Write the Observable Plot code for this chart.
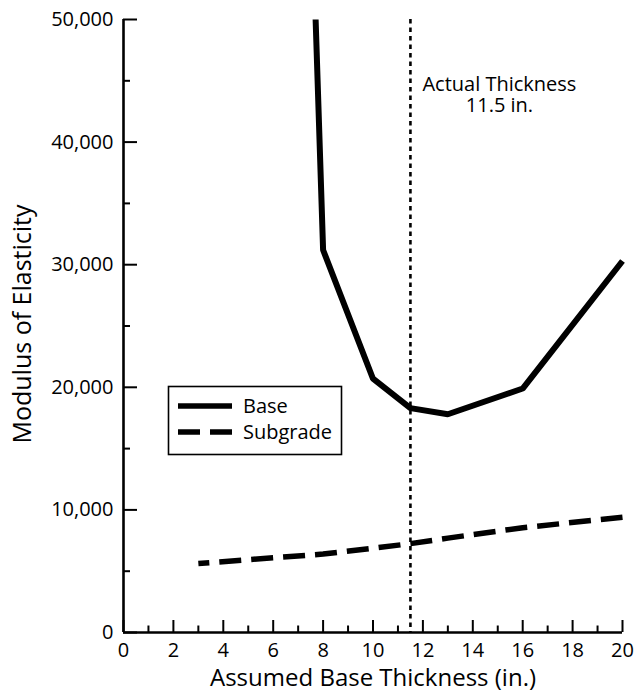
<!DOCTYPE html>
<html>
<head>
<meta charset="utf-8">
<script src="https://cdn.jsdelivr.net/npm/d3@7"></script>
<script src="https://cdn.jsdelivr.net/npm/@observablehq/plot@0.6"></script>
<style>
  body { margin: 0; background: #fff; font-family: "Open Sans", sans-serif; }
  #chart { width: 635px; height: 696px; }
</style>
</head>
<body>
<div id="chart"></div>
<script>
// Backcalculated base modulus against the assumed base thickness
const baseThickness = [7.7, 8, 10, 11.5, 13, 16, 20];
const baseModulus = [50000, 31200, 20700, 18300, 17800, 19900, 30300];

// Backcalculated subgrade modulus against the assumed base thickness
const subgradeThickness = [3, 8, 10, 11.5, 13, 16, 20];
const subgradeModulus = [5630, 6400, 6870, 7250, 7700, 8550, 9400];

// Thickness measured in the field
const actualThickness = 11.5;

// Axis ticks
const xMajorTicks = [0, 2, 4, 6, 8, 10, 12, 14, 16, 18, 20];
const xMinorTicks = [1, 3, 5, 7, 9, 11, 13, 15, 17, 19];
const yMajorTicks = [0, 10000, 20000, 30000, 40000, 50000];
const yMinorTicks = [5000, 15000, 25000, 35000, 45000];

const seriesNames = ["Base", "Subgrade"];

const base = baseThickness.map((x, i) => ({x, y: baseModulus[i]}));
const subgrade = subgradeThickness.map((x, i) => ({x, y: subgradeModulus[i]}));

const W = 635, H = 696;
const mL = 123, mR = 13, mT = 19, mB = 64;
const plotW = W - mL - mR, plotH = H - mT - mB;

const chart = Plot.plot({
  width: W,
  height: H,
  marginLeft: mL,
  marginRight: mR,
  marginTop: mT,
  marginBottom: mB,
  style: {fontFamily: "'Open Sans', sans-serif", fontSize: "20px", color: "#000", background: "#fff", overflow: "visible"},
  x: {domain: [0, 20]},
  y: {domain: [0, 50000]},
  marks: [
    // dotted marker at the actual thickness
    Plot.ruleX([actualThickness], {stroke: "#000", strokeWidth: 2.6, strokeDasharray: "4.5,4"}),

    // axis lines
    Plot.ruleX([0], {stroke: "#000", strokeWidth: 2.6}),
    Plot.ruleY([0], {stroke: "#000", strokeWidth: 2.6}),

    // inward tick marks
    Plot.ruleX(xMajorTicks, {x: d => d, insetTop: plotH - 12, stroke: "#000", strokeWidth: 2}),
    Plot.ruleX(xMinorTicks, {x: d => d, insetTop: plotH - 6.5, stroke: "#000", strokeWidth: 2}),
    Plot.ruleY(yMajorTicks, {y: d => d, insetRight: plotW - 14, stroke: "#000", strokeWidth: 2}),
    Plot.ruleY(yMinorTicks, {y: d => d, insetRight: plotW - 7, stroke: "#000", strokeWidth: 2}),

    // tick labels
    Plot.axisX({ticks: xMajorTicks, tickSize: 0, tickPadding: 10, tickFormat: d => String(d), label: null}),
    Plot.axisY({ticks: yMajorTicks, tickSize: 0, tickPadding: 10, tickFormat: d3.format(","), label: null}),

    // series
    Plot.line(subgrade, {x: "x", y: "y", stroke: "#000", strokeWidth: 5.5, strokeDasharray: "22,10", strokeDashoffset: 11, strokeLinecap: "butt"}),
    Plot.line(base, {x: "x", y: "y", stroke: "#000", strokeWidth: 6, strokeLinejoin: "miter", strokeLinecap: "butt"}),

    // annotation
    Plot.text([actualThickness], {
      x: d => d,
      text: d => `Actual Thickness\n${d} in.`,
      frameAnchor: "top",
      dx: 89,
      dy: 57,
      lineAnchor: "top",
      lineHeight: 1.05,
      textAnchor: "middle",
      fill: "#000"
    }),

    // axis titles
    Plot.text(["Assumed Base Thickness (in.)"], {frameAnchor: "bottom", dy: 46, fontSize: 24, lineAnchor: "middle", textAnchor: "middle", fill: "#000"}),
    Plot.text(["Modulus of Elasticity"], {frameAnchor: "left", dx: -101, dy: -2, rotate: -90, fontSize: 25, lineAnchor: "middle", textAnchor: "middle", fill: "#000"})
  ]
});

document.getElementById("chart").appendChild(chart);

// legend box inside the plot area
const svg = d3.select(chart);
const lg = svg.append("g").attr("class", "legend").attr("text-anchor", "start");
lg.append("rect")
  .attr("x", 168.5).attr("y", 386.5).attr("width", 173).attr("height", 68)
  .attr("fill", "#fff").attr("stroke", "#000").attr("stroke-width", 1.6);
const styles = [
  {dash: null},
  {dash: "22,10"}
];
seriesNames.forEach((name, i) => {
  const cy = 406 + i * 26;
  lg.append("line")
    .attr("x1", 178).attr("x2", 232).attr("y1", cy).attr("y2", cy)
    .attr("stroke", "#000").attr("stroke-width", 5.5)
    .attr("stroke-dasharray", styles[i].dash);
  lg.append("text")
    .attr("x", 243).attr("y", cy).attr("dy", "0.35em")
    .attr("text-anchor", "start")
    .attr("font-size", 20).attr("fill", "#000")
    .text(name);
});
</script>
</body>
</html>
